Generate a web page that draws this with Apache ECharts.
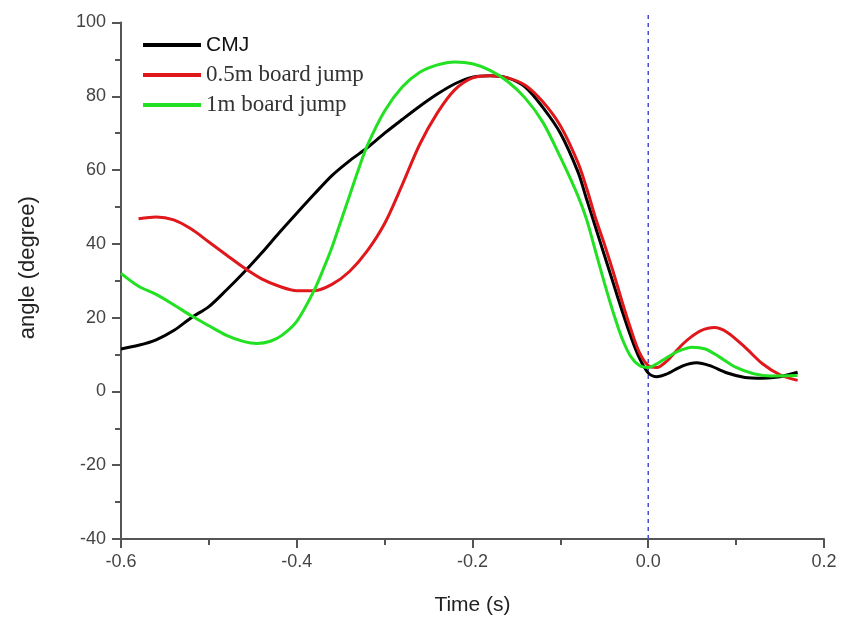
<!DOCTYPE html>
<html>
<head>
<meta charset="utf-8">
<script src="https://cdn.jsdelivr.net/npm/echarts@6/dist/echarts.min.js"></script>
<style>
  html, body { margin: 0; padding: 0; background: #fff; }
  #chart { width: 842px; height: 623px; }
</style>
</head>
<body>
<div id="chart"></div>
<script>
// Knee angle over time around take-off (t = 0 s)
const cmjTime = [-0.60, -0.58, -0.56, -0.54, -0.52, -0.50, -0.48, -0.46, -0.44, -0.42, -0.40, -0.38, -0.36, -0.34, -0.32, -0.30, -0.28, -0.26, -0.24, -0.22, -0.20, -0.18, -0.16, -0.14, -0.12, -0.10, -0.08, -0.07, -0.06, -0.05, -0.04, -0.03, -0.02, -0.01, 0.00, 0.01, 0.02, 0.04, 0.055, 0.07, 0.09, 0.11, 0.13, 0.15, 0.17];
const cmjAngle = [11.5, 12.5, 14, 16.5, 20, 23, 27.5, 32.3, 37.5, 43, 48.3, 53.5, 58.5, 62.5, 66, 70, 73.7, 77.3, 80.6, 83.4, 85.2, 85.6, 85, 82.5, 77, 70, 59.5, 52, 44.5, 37, 29.5, 22, 15, 9, 5, 4, 4.6, 7, 7.8, 7, 5, 3.8, 3.6, 4, 5.2];

const board05Time = [-0.58, -0.56, -0.54, -0.52, -0.50, -0.48, -0.46, -0.44, -0.42, -0.40, -0.38, -0.36, -0.34, -0.32, -0.30, -0.28, -0.26, -0.24, -0.22, -0.20, -0.18, -0.16, -0.14, -0.12, -0.10, -0.08, -0.07, -0.06, -0.05, -0.04, -0.03, -0.02, -0.01, 0.00, 0.01, 0.02, 0.03, 0.04, 0.05, 0.06, 0.075, 0.09, 0.11, 0.13, 0.15, 0.17];
const board05Angle = [46.8, 47.3, 46.5, 44, 40.5, 37, 33.5, 30.5, 28.5, 27.3, 27.3, 29, 32.5, 38, 45.5, 56, 67, 75.5, 81.8, 85, 85.6, 85, 83, 78.5, 72, 62, 55, 47, 40, 32.5, 24.5, 17, 10.5, 7, 6.5, 8, 10.5, 13, 15, 16.5, 17.3, 16, 12, 7.5, 4.5, 3];

const board1Time = [-0.60, -0.58, -0.56, -0.54, -0.52, -0.50, -0.48, -0.46, -0.445, -0.43, -0.417, -0.40, -0.38, -0.37, -0.36, -0.35, -0.34, -0.33, -0.32, -0.30, -0.28, -0.26, -0.24, -0.22, -0.20, -0.18, -0.16, -0.14, -0.12, -0.10, -0.08, -0.07, -0.06, -0.05, -0.04, -0.03, -0.02, -0.01, 0.00, 0.01, 0.02, 0.035, 0.05, 0.065, 0.08, 0.10, 0.12, 0.14, 0.17];
const board1Angle = [32, 28.5, 26.3, 23.5, 20.5, 17.8, 15.2, 13.5, 13, 13.6, 15.2, 19, 27.5, 33, 39, 46, 53, 60, 66.5, 76, 82.5, 86.5, 88.5, 89.3, 88.8, 87, 84, 79.5, 73, 63.5, 53, 46.5, 38, 29.5, 21.5, 14.5, 9.5, 7, 6.5, 7.5, 9, 11, 12, 11.5, 9.5, 6.5, 4.8, 4.2, 4.3];

// Take-off marker spans the full angle range
const takeoffTime = [0, 0];
const takeoffAngle = [-40, 103];

const seriesNames = ['CMJ', '0.5m board jump', '1m board jump'];
const seriesColors = ['#000000', '#e0181c', '#22e022'];

const xTicks = { min: -0.6, max: 0.2, interval: 0.2 };
const yTicks = { min: -40, max: 100, interval: 20 };

const pair = (xs, ys) => xs.map((x, i) => [x, ys[i]]);

const axisGrey = '#555555';
const labelFont = { fontFamily: 'Liberation Sans, Arial, sans-serif', fontSize: 18, color: '#444444' };

const chart = echarts.init(document.getElementById('chart'), null, { renderer: 'canvas' });

const curve = (name, data, color) => ({
  name: name,
  type: 'line',
  data: data,
  smooth: 0.3,
  showSymbol: false,
  symbol: 'none',
  lineStyle: { color: color, width: 3 },
  itemStyle: { color: color },
  z: 3
});

chart.setOption({
  animation: false,
  backgroundColor: '#ffffff',
  grid: { left: 121, right: 18, top: 22.5, bottom: 84, containLabel: false },
  legend: {
    orient: 'vertical',
    left: 138,
    top: 28,
    itemWidth: 58,
    itemHeight: 4,
    itemGap: 6,
    icon: 'rect',
    data: [
      { name: seriesNames[0], textStyle: { fontFamily: 'Liberation Sans Narrow, Liberation Sans, Arial, sans-serif', fontSize: 21, color: '#111', lineHeight: 24 } },
      { name: seriesNames[1], textStyle: { fontFamily: 'Liberation Serif, Times New Roman, serif', fontSize: 23, color: '#333', lineHeight: 24 } },
      { name: seriesNames[2], textStyle: { fontFamily: 'Liberation Serif, Times New Roman, serif', fontSize: 23, color: '#333', lineHeight: 24 } }
    ]
  },
  xAxis: {
    type: 'value',
    min: xTicks.min,
    max: xTicks.max,
    interval: xTicks.interval,
    name: 'Time (s)',
    nameLocation: 'middle',
    nameGap: 56,
    nameTextStyle: { fontFamily: 'Liberation Sans, Arial, sans-serif', fontSize: 21, color: '#222' },
    axisLine: { show: true, onZero: false, lineStyle: { color: axisGrey, width: 2 } },
    axisTick: { show: true, inside: false, length: 9, lineStyle: { color: axisGrey, width: 2 } },
    minorTick: { show: true, splitNumber: 2, length: 6, lineStyle: { color: axisGrey, width: 2 } },
    splitLine: { show: false },
    axisLabel: Object.assign({ margin: 14, formatter: v => v.toFixed(1) }, labelFont)
  },
  yAxis: {
    type: 'value',
    min: yTicks.min,
    max: yTicks.max,
    interval: yTicks.interval,
    name: 'angle (degree)',
    nameLocation: 'middle',
    nameRotate: 90,
    nameGap: 82,
    nameTextStyle: { fontFamily: 'Liberation Sans, Arial, sans-serif', fontSize: 22, color: '#222', padding: [0, 0, 0, 26] },
    axisLine: { show: true, onZero: false, lineStyle: { color: axisGrey, width: 2 } },
    axisTick: { show: true, inside: false, length: 9, lineStyle: { color: axisGrey, width: 2 } },
    minorTick: { show: true, splitNumber: 2, length: 6, lineStyle: { color: axisGrey, width: 2 } },
    splitLine: { show: false },
    axisLabel: Object.assign({ margin: 15 }, labelFont)
  },
  series: [
    {
      name: 'take-off',
      type: 'line',
      data: pair(takeoffTime, takeoffAngle),
      clip: false,
      showSymbol: false,
      symbol: 'none',
      silent: true,
      lineStyle: { color: '#4a4ad8', width: 1.5, type: [4, 4] },
      z: 1
    },
    curve(seriesNames[0], pair(cmjTime, cmjAngle), seriesColors[0]),
    curve(seriesNames[1], pair(board05Time, board05Angle), seriesColors[1]),
    curve(seriesNames[2], pair(board1Time, board1Angle), seriesColors[2])
  ]
});
</script>
</body>
</html>
